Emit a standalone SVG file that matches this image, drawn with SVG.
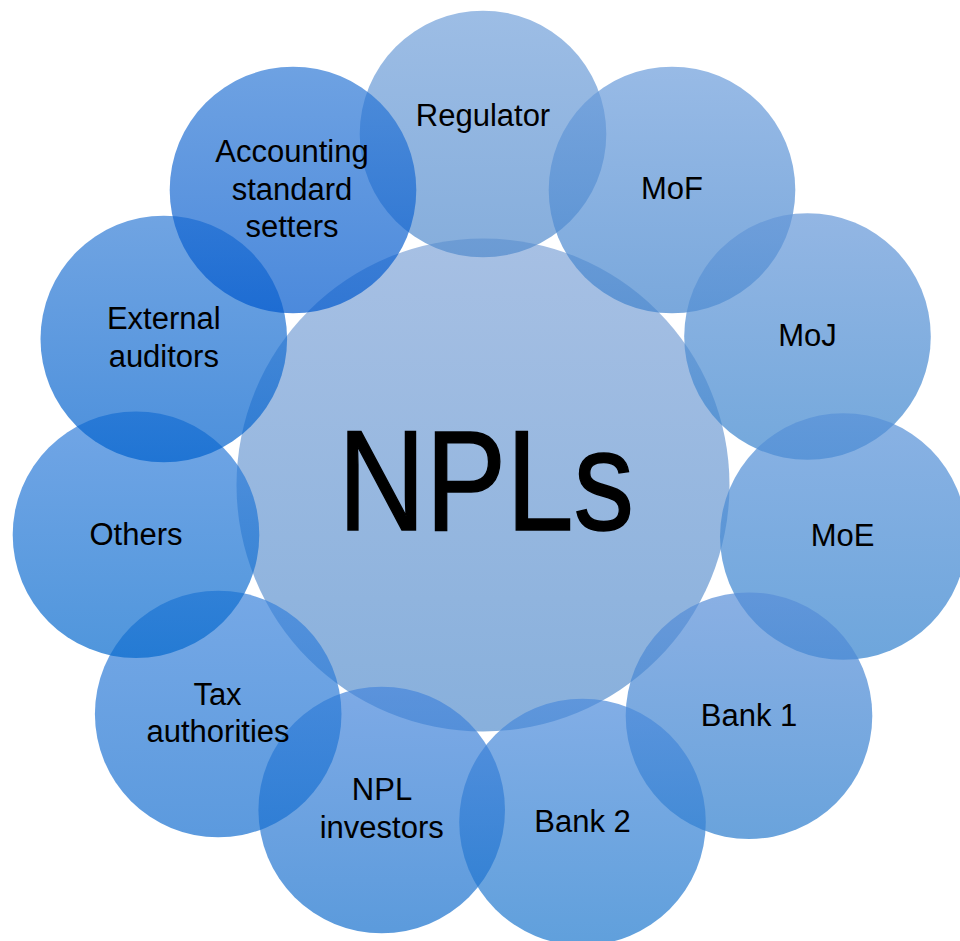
<svg xmlns="http://www.w3.org/2000/svg" width="960" height="941" viewBox="0 0 960 941">
<style>
.c{fill-opacity:0.7}
.t{font-family:'Liberation Sans',Arial,sans-serif;font-size:31px;fill:#000;text-anchor:middle}
.big{font-family:'Liberation Sans',Arial,sans-serif;font-size:142px;fill:#000;stroke:#000;stroke-width:1.5;text-anchor:middle}
</style>
<defs>
<linearGradient id="g0" x1="0" y1="0" x2="0" y2="1"><stop offset="0" stop-color="#81a5d8"/><stop offset="1" stop-color="#558ecd"/></linearGradient>
<linearGradient id="g1" x1="0" y1="0" x2="0" y2="1"><stop offset="0" stop-color="#73a1da"/><stop offset="1" stop-color="#528bcd"/></linearGradient>
<linearGradient id="g2" x1="0" y1="0" x2="0" y2="1"><stop offset="0" stop-color="#6c9ddb"/><stop offset="1" stop-color="#4183cd"/></linearGradient>
<linearGradient id="g3" x1="0" y1="0" x2="0" y2="1"><stop offset="0" stop-color="#6597d8"/><stop offset="1" stop-color="#3883cd"/></linearGradient>
<linearGradient id="g4" x1="0" y1="0" x2="0" y2="1"><stop offset="0" stop-color="#5891d8"/><stop offset="1" stop-color="#3080cd"/></linearGradient>
<linearGradient id="g5" x1="0" y1="0" x2="0" y2="1"><stop offset="0" stop-color="#588ed8"/><stop offset="1" stop-color="#2a7ccd"/></linearGradient>
<linearGradient id="g6" x1="0" y1="0" x2="0" y2="1"><stop offset="0" stop-color="#4d8bdb"/><stop offset="1" stop-color="#1c77cd"/></linearGradient>
<linearGradient id="g7" x1="0" y1="0" x2="0" y2="1"><stop offset="0" stop-color="#4786db"/><stop offset="1" stop-color="#1670cd"/></linearGradient>
<linearGradient id="g8" x1="0" y1="0" x2="0" y2="1"><stop offset="0" stop-color="#3b83db"/><stop offset="1" stop-color="#166fd0"/></linearGradient>
<linearGradient id="g9" x1="0" y1="0" x2="0" y2="1"><stop offset="0" stop-color="#3680db"/><stop offset="1" stop-color="#0569cd"/></linearGradient>
<linearGradient id="g10" x1="0" y1="0" x2="0" y2="1"><stop offset="0" stop-color="#337dd6"/><stop offset="1" stop-color="#0061cd"/></linearGradient>
<linearGradient id="g11" x1="0" y1="0" x2="0" y2="1"><stop offset="0" stop-color="#307ad6"/><stop offset="1" stop-color="#0058cd"/></linearGradient>
</defs>
<g id="npls">
<circle class="c" cx="483" cy="485" r="246.5" fill="url(#g0)"/>
<text class="big" x="486" y="530" textLength="296" lengthAdjust="spacingAndGlyphs">NPLs</text>
</g>
<g id="regulator">
<circle class="c" cx="483" cy="134" r="123.3" fill="url(#g1)"/>
<text class="t" x="483" y="126">Regulator</text>
</g>
<g id="mof">
<circle class="c" cx="672" cy="190" r="123.3" fill="url(#g2)"/>
<text class="t" x="672" y="199">MoF</text>
</g>
<g id="moj">
<circle class="c" cx="807.5" cy="336.5" r="123.3" fill="url(#g3)"/>
<text class="t" x="807.5" y="346">MoJ</text>
</g>
<g id="moe">
<circle class="c" cx="843.3" cy="536.5" r="123.3" fill="url(#g4)"/>
<text class="t" x="842.5" y="546">MoE</text>
</g>
<g id="bank1">
<circle class="c" cx="749" cy="715.7" r="123.3" fill="url(#g5)"/>
<text class="t" x="749" y="726">Bank 1</text>
</g>
<g id="bank2">
<circle class="c" cx="582.5" cy="822" r="123.3" fill="url(#g6)"/>
<text class="t" x="582.5" y="832">Bank 2</text>
</g>
<g id="npl-investors">
<circle class="c" cx="381.7" cy="810" r="123.3" fill="url(#g7)"/>
<text class="t" x="382" y="800">NPL</text>
<text class="t" x="381.7" y="838">investors</text>
</g>
<g id="tax-authorities">
<circle class="c" cx="218.2" cy="714" r="123.3" fill="url(#g8)"/>
<text class="t" x="217.5" y="705">Tax</text>
<text class="t" x="218" y="742">authorities</text>
</g>
<g id="others">
<circle class="c" cx="136" cy="534.7" r="123.3" fill="url(#g9)"/>
<text class="t" x="136" y="545">Others</text>
</g>
<g id="external-auditors">
<circle class="c" cx="163.8" cy="339" r="123.3" fill="url(#g10)"/>
<text class="t" x="163.8" y="329">External</text>
<text class="t" x="163.8" y="367">auditors</text>
</g>
<g id="accounting-standard-setters">
<circle class="c" cx="293" cy="190" r="123.3" fill="url(#g11)"/>
<text class="t" x="292" y="162">Accounting</text>
<text class="t" x="292" y="200">standard</text>
<text class="t" x="292" y="237">setters</text>
</g>
</svg>
